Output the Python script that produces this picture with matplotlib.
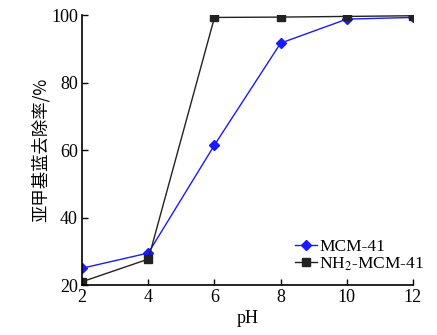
import matplotlib
matplotlib.use("Agg")
import matplotlib.pyplot as plt

# data
ph = [2, 4, 6, 8, 10, 12]
mcm41 = [25.0, 29.5, 61.5, 91.7, 98.8, 99.3]
nh2_mcm41 = [21.0, 27.7, 99.3, 99.4, 99.6, 99.8]

plt.rcParams['font.family'] = ['Liberation Serif', 'Noto Sans CJK SC']
plt.rcParams['mathtext.fontset'] = 'stix'

fig = plt.figure(figsize=(4.37, 3.35), dpi=100)
ax = fig.add_axes([0.188, 0.149, 0.757, 0.806])

ax.plot(ph, mcm41, color='#1a1aff', lw=1.0, marker='D', ms=5.5, label='MCM-41')
ax.plot(ph, nh2_mcm41, color='#222222', lw=1.0, marker='s', ms=6, label='NH$_2$-MCM-41')

ax.set_xlim(2, 12)
ax.set_ylim(20, 100)
ax.set_xticks([2, 4, 6, 8, 10, 12])
ax.set_yticks([20, 40, 60, 80, 100])
ax.tick_params(direction='in', labelsize=13, length=4, width=1, pad=3)
for s in ['top', 'right']:
    ax.spines[s].set_visible(False)
for s in ['left', 'bottom']:
    ax.spines[s].set_linewidth(1.2)
ax.set_xlabel('pH', fontsize=13, labelpad=3)
ax.set_ylabel('亚甲基蓝去除率/%', fontsize=12.5, family=['Noto Sans CJK SC', 'Liberation Serif'], labelpad=1)

ax.legend(loc='lower right', frameon=False, fontsize=12.5, handlelength=1.3,
          handletextpad=0.1, labelspacing=0.05, borderaxespad=0.3,
          bbox_to_anchor=(1.07, 0.0))

fig.savefig('out.png', dpi=100)
